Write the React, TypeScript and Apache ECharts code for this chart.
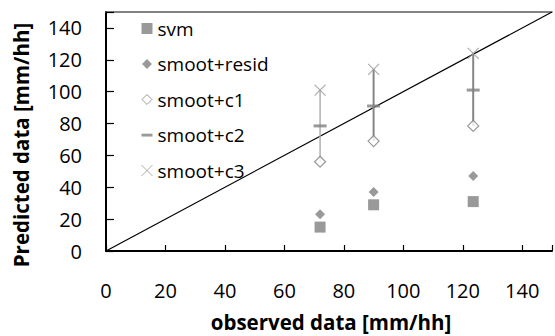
import React, { useEffect, useRef } from "react";
import * as echarts from "echarts";

const observed = [72, 90, 123.5];
const svm = [15, 29, 31];
const smootResid = [23, 37, 47];
const smootC1 = [56, 69, 78.5];
const smootC2 = [78.5, 91, 101];
const smootC3 = [101, 114, 124];
const barColors = ["#b0b0b0", "#858585", "#858585"];
const diagonal = [[0, 0], [150, 150]];
const xTicks = [0, 20, 40, 60, 80, 100, 120, 140];

const FONT = "Open Sans";
const XPATH = "path://M0,0L10,10M10,0L0,10";
const ICON_SQUARE = "path://M0,0H10V10H0Z";
const ICON_DIAMOND = "path://M0,0M5,0.5L9.5,5L5,9.5L0.5,5Z M10,10";
const ICON_DASH = "path://M0,0M0,3.8H10V6.4H0Z M10,10";
const ICON_X = "path://M0,0L10,10M10,0L0,10";

export default function App() {
  const ref = useRef<HTMLDivElement>(null);
  useEffect(() => {
    document.body.style.margin = "0";
    const chart = echarts.init(ref.current!, null, { renderer: "svg" });
    const pair = (ys: number[]) => observed.map((x, i) => [x, ys[i]]);
    chart.setOption({
      animation: false,
      backgroundColor: "#ffffff",
      textStyle: { fontFamily: FONT },
      grid: { left: 106, top: 12, width: 452, height: 239 },
      xAxis: [
        {
          type: "value",
          min: 0,
          max: 150,
          interval: 20,
          axisLine: { show: true, lineStyle: { color: "#000", width: 2 } },
          axisTick: { show: true, inside: true, length: 6, lineStyle: { color: "#000", width: 1.2 } },
          axisLabel: {
            margin: 29,
            fontSize: 20,
            color: "#000",
            fontFamily: FONT,
            formatter: (v: number) => (xTicks.includes(v) ? String(v) : ""),
          },
          splitLine: { show: false },
        },
        {
          type: "value",
          position: "top",
          min: 0,
          max: 150,
          axisLine: { show: true, onZero: false, lineStyle: { color: "#5a5a5a", width: 1.5 } },
          axisTick: { show: false },
          axisLabel: { show: false },
          splitLine: { show: false },
        },
      ],
      yAxis: {
        type: "value",
        min: 0,
        max: 150,
        interval: 20,
        axisLine: { show: true, lineStyle: { color: "#000", width: 2 } },
        axisTick: { show: true, inside: true, length: 8, lineStyle: { color: "#000", width: 1.2 } },
        axisLabel: {
          margin: 24,
          fontSize: 20,
          color: "#000",
          fontFamily: FONT,
          formatter: (v: number) => (v <= 140 ? String(v) : ""),
        },
        splitLine: { show: false },
      },
      legend: {
        orient: "vertical",
        left: 134,
        top: 13,
        itemGap: 14.5,
        itemWidth: 11,
        itemHeight: 11,
        textStyle: { fontSize: 19, color: "#000", fontFamily: FONT, lineHeight: 21 },
        data: [
          { name: "svm", icon: ICON_SQUARE },
          { name: "smoot+resid", icon: ICON_DIAMOND },
          { name: "smoot+c1", icon: ICON_DIAMOND, itemStyle: { color: "#ffffff", borderColor: "#808080", borderWidth: 1 } },
          { name: "smoot+c2", icon: ICON_DASH },
          { name: "smoot+c3", icon: ICON_X, itemStyle: { color: "none", borderColor: "#999999", borderWidth: 1 } },
        ],
      },
      series: [
        {
          type: "line",
          data: diagonal,
          showSymbol: false,
          symbol: "none",
          lineStyle: { color: "#000", width: 1.2 },
          silent: true,
          z: 1,
        },
        {
          type: "custom",
          z: 2,
          data: observed.map((x, i) => [x, smootC1[i], smootC3[i], i]),
          renderItem: (params: any, api: any) => {
            const lo = api.coord([api.value(0), api.value(1)]);
            const hi = api.coord([api.value(0), api.value(2)]);
            const idx = api.value(3);
            return {
              type: "line",
              shape: { x1: lo[0], y1: lo[1], x2: hi[0], y2: hi[1] },
              style: { stroke: barColors[idx], lineWidth: idx === 0 ? 1.5 : 2 },
            };
          },
        },
        {
          name: "svm",
          type: "scatter",
          data: pair(svm),
          symbol: "rect",
          symbolSize: 11,
          itemStyle: { color: "#808080" },
          z: 5,
        },
        {
          name: "smoot+resid",
          type: "scatter",
          data: pair(smootResid),
          symbol: "diamond",
          symbolSize: 10,
          itemStyle: { color: "#808080" },
          z: 5,
        },
        {
          name: "smoot+c1",
          type: "scatter",
          data: pair(smootC1),
          symbol: "diamond",
          symbolSize: 11,
          itemStyle: { color: "#ffffff", borderColor: "#808080", borderWidth: 1.2 },
          z: 5,
        },
        {
          name: "smoot+c2",
          type: "scatter",
          data: pair(smootC2),
          symbol: "rect",
          symbolSize: [13, 3],
          itemStyle: { color: "#808080" },
          z: 5,
        },
        {
          name: "smoot+c3",
          type: "scatter",
          data: pair(smootC3),
          symbol: XPATH,
          symbolSize: 11,
          itemStyle: { color: "none", borderColor: "#999999", borderWidth: 1.2 },
          z: 5,
        },
      ],
      graphic: [
        {
          type: "text",
          x: 331,
          y: 322,
          style: {
            text: "observed data [mm/hh]",
            fontFamily: FONT,
            fontWeight: "bold",
            fontSize: 20.5,
            fill: "#000",
            align: "center",
            verticalAlign: "middle",
          },
        },
        {
          type: "text",
          x: 21,
          y: 145,
          rotation: Math.PI / 2,
          style: {
            text: "Predicted data [mm/hh]",
            fontFamily: FONT,
            fontWeight: "bold",
            fontSize: 20.5,
            fill: "#000",
            align: "center",
            verticalAlign: "middle",
          },
        },
      ],
    });
    return () => chart.dispose();
  }, []);
  return <div ref={ref} style={{ width: 555, height: 336 }} />;
}
